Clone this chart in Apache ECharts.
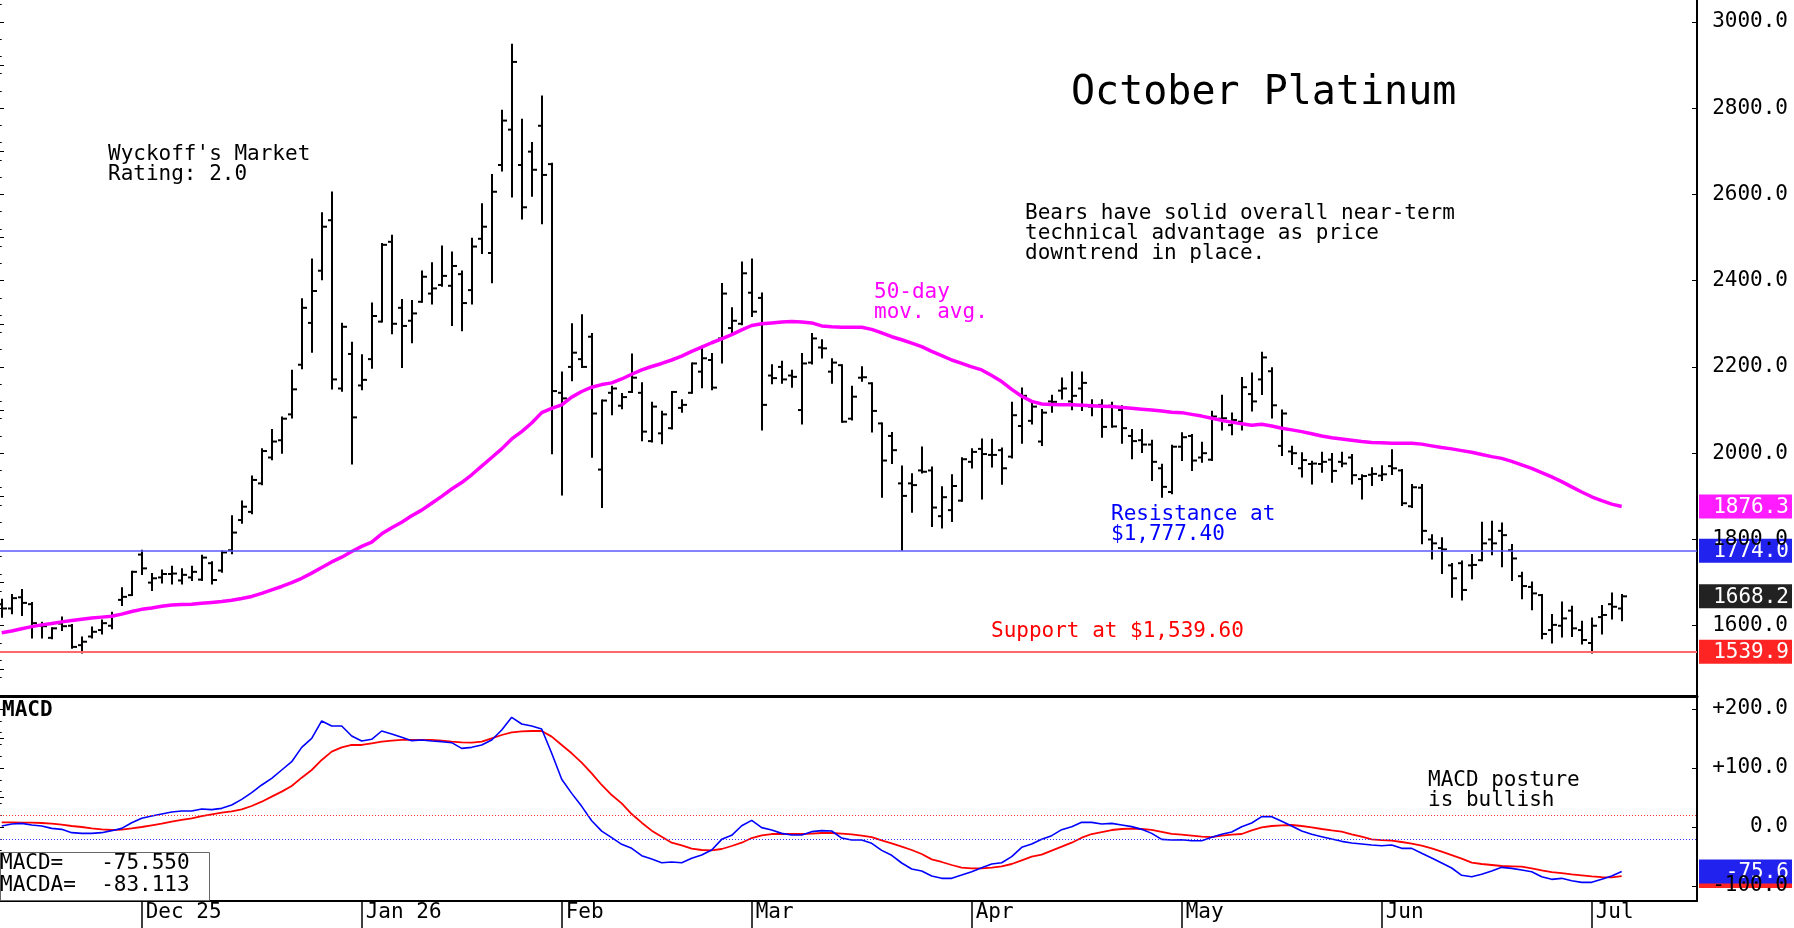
<!DOCTYPE html>
<html>
<head>
<meta charset="utf-8">
<title>October Platinum</title>
<script src="https://cdn.jsdelivr.net/npm/echarts@6/dist/echarts.min.js"></script>
<style>
  html, body { margin: 0; padding: 0; background: #fff; }
  #chart { width: 1794px; height: 928px; }
</style>
</head>
<body>
<div id="chart"></div>
<script>
// daily bars, index 0 = first session shown (mid Nov), last = early Jul
const opens = [1650,1640,1666,1650,1600,1572,1605,1600,1555,1575,
  1590,1600,1660,1671,1765,1700,1712,1720,1705,1712,
  1707,1745,1728,1775,1845,1864,1930,1990,2030,2090,
  2205,2302,2423,2540,2150,2230,2157,2218,2305,2490,
  2337,2307,2351,2370,2390,2388,2415,2378,2497,2464,
  2668,2750,2668,2699,2759,2670,2140,2200,2218,2270,
  1962,2140,2110,2142,2140,2028,2046,2058,2105,2140,
  2189,2216,2266,2290,2300,2372,2360,2180,2200,2180,
  2100,2210,2245,2189,2204,2080,2175,2162,2069,2040,
  1930,1930,1960,1960,1854,1868,1890,1980,2010,1996,
  2007,1992,2063,2075,2027,2120,2145,2120,2150,2108,
  2112,2110,2100,2040,2030,2020,1965,1910,2015,2040,
  1990,1985,2080,2065,2073,2137,2171,2190,2017,2004,
  1965,1975,1975,1985,1980,1990,1940,1950,1948,1970,
  1960,1877,1920,1800,1780,1740,1745,1740,1752,1800,
  1820,1775,1715,1690,1671,1590,1600,1635,1590,1560,
  1620,1650,1640];
const highs = [1660,1671,1683,1653,1607,1594,1619,1602,1573,1596,
  1612,1630,1687,1725,1774,1720,1728,1737,1731,1737,
  1762,1747,1772,1854,1888,1946,2009,2054,2083,2191,
  2357,2449,2556,2604,2300,2256,2227,2347,2485,2504,
  2355,2353,2421,2440,2479,2465,2421,2497,2577,2645,
  2794,2947,2773,2719,2827,2671,2187,2299,2320,2276,
  2122,2154,2137,2229,2162,2117,2096,2142,2123,2208,
  2247,2230,2392,2336,2442,2449,2370,2204,2212,2191,
  2230,2276,2262,2218,2204,2154,2199,2162,2069,2047,
  1969,1951,2013,1967,1921,1949,1988,2009,2032,2031,
  2011,2117,2150,2115,2100,2133,2173,2187,2187,2123,
  2123,2117,2109,2054,2054,2029,1973,2017,2046,2042,
  2024,2096,2133,2092,2174,2185,2233,2197,2099,2015,
  2000,1980,2001,1998,2001,1996,1949,1965,1970,2007,
  1961,1926,1926,1810,1803,1743,1749,1764,1839,1841,
  1837,1787,1723,1700,1671,1625,1654,1644,1609,1617,
  1646,1675,1671];
const lows = [1621,1629,1625,1573,1573,1571,1590,1549,1538,1573,
  1582,1594,1648,1671,1720,1683,1700,1698,1698,1706,
  1706,1698,1725,1768,1839,1861,1928,1986,2001,2083,
  2197,2235,2403,2150,2145,1976,2148,2198,2305,2278,
  2200,2257,2351,2347,2388,2297,2285,2347,2464,2396,
  2655,2595,2544,2597,2533,2000,1904,2169,2200,1992,
  1875,2090,2104,2142,2030,2027,2023,2057,2096,2140,
  2153,2148,2210,2274,2299,2318,2055,2162,2163,2154,
  2069,2208,2222,2163,2073,2078,2168,2050,1899,1977,
  1776,1864,1955,1831,1828,1843,1890,1967,1895,1969,
  1929,1990,2024,2069,2019,2096,2127,2102,2100,2088,
  2038,2061,2024,1988,2003,1938,1899,1907,1984,1961,
  1980,1984,2055,2044,2055,2099,2137,2083,1996,1975,
  1946,1930,1957,1934,1970,1930,1895,1926,1938,1952,
  1880,1875,1791,1756,1722,1667,1661,1710,1752,1766,
  1738,1706,1664,1638,1571,1561,1575,1576,1559,1538,
  1582,1617,1613];
const closes = [1640,1664,1653,1606,1599,1594,1599,1551,1563,1586,
  1606,1625,1667,1725,1733,1710,1720,1721,1718,1725,
  1758,1706,1770,1816,1876,1938,2005,2027,2080,2148,
  2337,2376,2525,2171,2293,2083,2170,2318,2483,2300,
  2295,2324,2409,2382,2411,2434,2348,2479,2525,2606,
  2771,2907,2570,2657,2645,2144,2127,2233,2200,2092,
  2122,2150,2130,2175,2050,2108,2090,2142,2112,2208,
  2220,2152,2370,2307,2417,2328,2112,2174,2171,2177,
  2208,2266,2243,2210,2073,2131,2176,2098,1983,2007,
  1901,1926,1957,1874,1898,1924,1986,2003,1998,1996,
  1965,2088,2133,2108,2094,2119,2150,2133,2163,2109,
  2061,2062,2058,2028,2020,1980,1922,2015,2037,1983,
  2000,2085,2081,2077,2153,2120,2222,2111,2092,2000,
  1984,1976,1980,1959,1976,1949,1947,1952,1951,1965,
  1884,1921,1820,1791,1777,1710,1683,1741,1791,1791,
  1810,1756,1692,1675,1581,1602,1617,1594,1567,1600,
  1625,1644,1668.2];

// 50-day moving average as plotted
const ma50 = [1584,1588,1593,1598,1602,1605,1609,1612,1615,1618,
  1620,1622,1627,1633,1638,1641,1645,1648,1649,1650,
  1652,1654,1656,1659,1663,1668,1675,1683,1691,1700,
  1710,1722,1735,1748,1759,1772,1784,1794,1813,1827,
  1840,1855,1868,1884,1900,1917,1932,1950,1970,1990,
  2010,2033,2050,2070,2094,2104,2112,2130,2143,2153,
  2159,2163,2172,2183,2193,2201,2208,2216,2225,2236,
  2246,2256,2265,2275,2286,2296,2300,2302,2304,2305,
  2304,2302,2295,2293,2292,2292,2292,2287,2279,2270,
  2263,2255,2247,2236,2226,2216,2208,2200,2193,2180,
  2166,2148,2132,2120,2114,2113,2112,2112,2111,2110,
  2109,2108,2106,2104,2102,2100,2098,2095,2094,2090,
  2086,2081,2076,2072,2068,2065,2067,2063,2058,2054,
  2050,2045,2040,2036,2033,2030,2027,2025,2024,2023,
  2023,2023,2021,2017,2013,2010,2006,2002,1997,1992,
  1988,1981,1973,1965,1955,1945,1934,1922,1910,1899,
  1890,1882,1876.3];

// MACD (blue) and its average (red)
const macdLine = [1.7,5.1,6.2,3.4,1.7,-2.3,-4,-9.6,-10.8,-10.8,
  -9.6,-6.2,-2.3,7.3,14.7,18.6,22,25.4,27.1,27.1,
  30.5,29.4,31.6,37.3,46.9,58.2,71.2,82.5,96.6,110.7,
  135,150.3,179.7,171.2,171.2,154.2,145.8,148.6,162.7,157.6,
  152,146.3,147.5,145.8,144.6,142.9,133.3,135,139,147.5,
  164.4,185.9,174.6,171.2,166.1,124.9,80.8,57,35,10.7,
  -7,-18.1,-29.4,-36.2,-48.6,-54.3,-60.5,-59.3,-60.5,-53.1,
  -47.5,-39,-20.9,-14.1,2.2,11.3,-1.1,-5.1,-10.8,-13.6,
  -13.6,-7.9,-6.2,-6.8,-18.7,-22.1,-22.1,-27.7,-39.6,-48,
  -61,-71.2,-74.6,-83.1,-87,-87,-81.4,-75.7,-69,-62.7,
  -60.5,-50.3,-34.5,-28.8,-20.9,-14.7,-4.5,0.6,7.9,7.9,
  5.1,6.2,3.4,0.6,-4,-10.8,-21,-22.1,-21.5,-23.2,
  -23.2,-17.5,-12.4,-8.5,0.5,6.8,17.5,17.5,9.6,1.7,
  -6.8,-12.4,-16.4,-20.4,-24.3,-27.1,-28.8,-30.5,-31.7,-30.5,
  -36.2,-36.2,-44.6,-52.6,-61,-69.5,-81.9,-84.2,-80.2,-74.6,
  -68.4,-70.1,-72.9,-75.7,-84.2,-88.7,-87,-91,-93.8,-93.8,
  -88.7,-83.1,-75.55];
const macdAvg = [7.9,7.9,7.3,7.3,6.8,5.6,4,1.7,0,-2.3,
  -4,-5.1,-4.5,-2.3,0,2.8,5.6,9,11.9,14.7,
  18.6,21.5,24.3,26.5,29.9,35.6,42.9,51.4,59.9,69.5,
  83.6,96.6,113.6,127.7,135,139,139,141.8,144.6,146.3,
  147.5,147.5,147.5,147.5,146.3,144.6,143.5,142.9,144.6,150.3,
  155.9,160.4,162.1,162.7,162.7,153.1,139,124.9,109,91,
  71.2,54.2,40.1,22,7.3,-6.2,-16.4,-26.6,-31.1,-36.7,
  -39,-39.6,-37.3,-32.2,-26.6,-18.7,-14.1,-11.9,-11.9,-11.9,
  -11.9,-11.3,-10.2,-10.2,-11.3,-12.4,-14.7,-17,-22.6,-27.7,
  -33.4,-39,-45.8,-54.8,-59.3,-64.4,-69,-70.1,-70.1,-69,
  -66.7,-62.7,-56.5,-50.3,-46.9,-40.1,-33.4,-26.6,-18.1,-11.9,
  -8.5,-5.1,-3.4,-2.8,-3.4,-4.8,-8.2,-11.6,-13,-14.7,
  -16.4,-17,-14.7,-13,-11.9,-5.7,-0.6,1.7,2.8,3.4,
  1.7,-0.6,-3.4,-5.7,-7.9,-12.4,-16.4,-20.9,-22.1,-23.2,
  -25.4,-28.3,-31.7,-36.2,-41.8,-47.5,-53.7,-60.5,-62.7,-64.4,
  -66.1,-66.7,-67.3,-70.1,-73.5,-76.3,-78,-80.2,-81.9,-83.6,
  -84.8,-85.3,-83.113];

// first session of each month and its label
const monthStarts = [14, 36, 56, 75, 97, 118, 138, 159];
const monthLabels = ['Dec 25', 'Jan 26', 'Feb', 'Mar', 'Apr', 'May', 'Jun', 'Jul'];
const priceLabels = [1600, 1800, 2000, 2200, 2400, 2600, 2800, 3000];
const macdLabels = [-100, 0, 100, 200];
const resistance = 1774.0;
const support = 1539.9;
const macdLevels = [20, -20];

const FONT = '"DejaVu Sans Mono", "Liberation Mono", monospace';
const steps = (a, b, s) => { const out = []; for (let v = a; v <= b + 1e-9; v += s) out.push(v); return out; };
// round half away from zero, like the chart's tags (-75.55 -> -75.6)
const fmt = (v, d) => (v < 0 ? '-' : '') + (Math.abs(v) + 1e-9).toFixed(d);

const bars = opens.map((o, i) => [i, o, highs[i], lows[i], closes[i]]);
const pairs = arr => arr.map((v, i) => [i, v]);

const renderBar = (params, api) => {
  const i = api.value(0);
  const x = Math.round(api.coord([i, 0])[0]);
  const y = v => api.coord([i, v])[1];
  const st = { stroke: '#000', lineWidth: 2 };
  return {
    type: 'group',
    children: [
      { type: 'line', shape: { x1: x, y1: y(api.value(2)) - 1, x2: x, y2: y(api.value(3)) + 1 }, style: st },
      { type: 'line', shape: { x1: x - 4, y1: y(api.value(1)), x2: x, y2: y(api.value(1)) }, style: st },
      { type: 'line', shape: { x1: x, y1: y(api.value(4)), x2: x + 5, y2: y(api.value(4)) }, style: st }
    ]
  };
};

const xBase = {
  type: 'value', min: -0.17, max: 169.53,
  splitLine: { show: false }, axisTick: { show: false }, axisLabel: { show: false }
};
const tickAxis = (grid, position, min, max, values, len, extra) => Object.assign({
  type: 'value', gridIndex: grid, position, min, max,
  axisLine: { show: false }, splitLine: { show: false },
  axisTick: { show: true, inside: true, length: len, customValues: values, lineStyle: { color: '#000', width: 1 } },
  axisLabel: { show: false }
}, extra || {});

const PMIN = 1436, PMAX = 3050.5;
const MMIN = -125.4, MMAX = 220.3;

const chart = echarts.init(document.getElementById('chart'), null, { renderer: 'canvas' });

const option = {
  backgroundColor: '#fff',
  animation: false,
  grid: [
    { left: 0, right: 97, top: 0, bottom: 231.5, containLabel: false, outerBoundsMode: 'none' },
    { left: 0, right: 97, top: 697, bottom: 27, containLabel: false, outerBoundsMode: 'none' }
  ],
  xAxis: [
    Object.assign({}, xBase, {
      gridIndex: 0, position: 'bottom',
      axisLine: { show: true, onZero: false, lineStyle: { color: '#000', width: 3 } }
    }),
    Object.assign({}, xBase, {
      gridIndex: 1, position: 'bottom',
      axisLine: { show: true, onZero: false, lineStyle: { color: '#000', width: 2 } },
      axisTick: { show: true, length: 27, customValues: monthStarts, lineStyle: { color: '#000', width: 1.5 } },
      axisLabel: {
        show: true, customValues: monthStarts, margin: 12,
        align: 'left', verticalAlign: 'middle', padding: [0, 0, 0, 4],
        fontFamily: FONT, fontSize: 21, color: '#000',
        formatter: v => monthLabels[monthStarts.indexOf(Math.round(v))] || ''
      }
    })
  ],
  yAxis: [
    tickAxis(0, 'right', PMIN, PMAX, priceLabels, 5, {
      axisLine: { show: true, onZero: false, lineStyle: { color: '#000', width: 2 } },
      axisLabel: {
        show: true, customValues: priceLabels, align: 'right', margin: 91,
        fontFamily: FONT, fontSize: 21, color: '#000', formatter: v => v.toFixed(1)
      }
    }),
    tickAxis(0, 'right', PMIN, PMAX, steps(1440, 3040, 40), 3),
    tickAxis(0, 'left', PMIN, PMAX, steps(1500, 3000, 100), 4),
    tickAxis(1, 'right', MMIN, MMAX, macdLabels, 5, {
      axisLine: { show: true, onZero: false, lineStyle: { color: '#000', width: 2 } },
      axisLabel: {
        show: true, customValues: macdLabels, align: 'right', margin: 91,
        fontFamily: FONT, fontSize: 21, color: '#000',
        formatter: v => (v > 0 ? '+' : '') + v.toFixed(1)
      }
    }),
    tickAxis(1, 'right', MMIN, MMAX, steps(-120, 220, 20), 3),
    tickAxis(1, 'left', MMIN, MMAX, steps(-100, 200, 50), 4)
  ],
  series: [
    {
      type: 'custom', name: 'bars', xAxisIndex: 0, yAxisIndex: 0,
      renderItem: renderBar, data: bars, encode: { x: 0, y: [1, 2, 3, 4] }, z: 3
    },
    {
      type: 'line', name: '50-day', xAxisIndex: 0, yAxisIndex: 0, data: pairs(ma50),
      symbol: 'none', lineStyle: { color: '#ff00ff', width: 3.5 }, z: 4,
      markLine: {
        silent: true, symbol: 'none', label: { show: false },
        data: [
          { yAxis: resistance, lineStyle: { color: '#5a5aff', width: 1.5, type: 'solid' } },
          { yAxis: support, lineStyle: { color: '#ff6868', width: 2, type: 'solid' } }
        ]
      }
    },
    {
      type: 'line', name: 'MACD', xAxisIndex: 1, yAxisIndex: 3, data: pairs(macdLine),
      symbol: 'none', lineStyle: { color: '#0000ff', width: 1.6 }, z: 4,
      markLine: {
        silent: true, symbol: 'none', label: { show: false },
        data: [
          { yAxis: macdLevels[0], lineStyle: { color: '#ff3030', width: 1, type: [1, 2] } },
          { yAxis: macdLevels[1], lineStyle: { color: '#3030ff', width: 1, type: [1, 2] } }
        ]
      }
    },
    {
      type: 'line', name: 'MACDA', xAxisIndex: 1, yAxisIndex: 3, data: pairs(macdAvg),
      symbol: 'none', lineStyle: { color: '#ff0000', width: 1.8 }, z: 3
    }
  ]
};
chart.setOption(option);

// free text notes
const note = (text, x, y, color, size, lh, weight) => ({
  type: 'text', z: 10,
  style: {
    text, x, y, fill: color || '#000',
    font: (weight || 'normal') + ' ' + (size || 21) + 'px ' + FONT,
    lineHeight: lh || 20, align: 'left', verticalAlign: 'middle'
  }
});

// right-edge value tags, placed on the axis scale
const tag = (yAxisIndex, value, color) => {
  const y = chart.convertToPixel({ yAxisIndex }, value);
  return {
    type: 'group', z: 20,
    children: [
      { type: 'rect', shape: { x: 1699, y: y - 12, width: 93, height: 24 }, style: { fill: color } },
      { type: 'text', style: { text: fmt(value, 1), x: 1789, y: y + 1, fill: '#fff', font: '21px ' + FONT, align: 'right', verticalAlign: 'middle' } }
    ]
  };
};

const lastMa = ma50[ma50.length - 1];
const lastClose = closes[closes.length - 1];
const lastMacd = macdLine[macdLine.length - 1];
const lastAvg = macdAvg[macdAvg.length - 1];

chart.setOption({
  graphic: [
    note('October Platinum', 1071, 94, '#000', 40, 44),
    note("Wyckoff's Market\nRating: 2.0", 108, 164.6, '#000', 21, 19.2),
    note('Bears have solid overall near-term\ntechnical advantage as price\ndowntrend in place.', 1025, 233.5, '#000', 21, 19.8),
    note('50-day\nmov. avg.', 874, 302.7, '#ff00ff', 21, 20.3),
    note('Resistance at\n$1,777.40', 1111, 524.7, '#0000ff', 21, 19.7),
    note('Support at $1,539.60', 991, 631.7, '#ff0000', 21, 20),
    note('MACD posture\nis bullish', 1428, 790.8, '#000', 21, 20),
    note('MACD', 2, 711, '#000', 21, 20, 'bold'),
    {
      type: 'rect', z: 9,
      shape: { x: 0.5, y: 852.5, width: 209, height: 48 },
      style: { fill: '#fff', stroke: '#666', lineWidth: 1 }
    },
    note('MACD=   ' + fmt(lastMacd, 3) + '\nMACDA=  ' + fmt(lastAvg, 3), 0, 875, '#000', 21, 22),
    tag(0, lastMa, '#ff1cff'),
    tag(0, resistance, '#2222ee'),
    tag(0, lastClose, '#222222'),
    tag(0, support, '#ff2424'),
    tag(3, lastAvg, '#ff2424'),
    tag(3, lastMacd, '#2222ee')
  ]
});

window.addEventListener('resize', () => chart.resize());
</script>
</body>
</html>
